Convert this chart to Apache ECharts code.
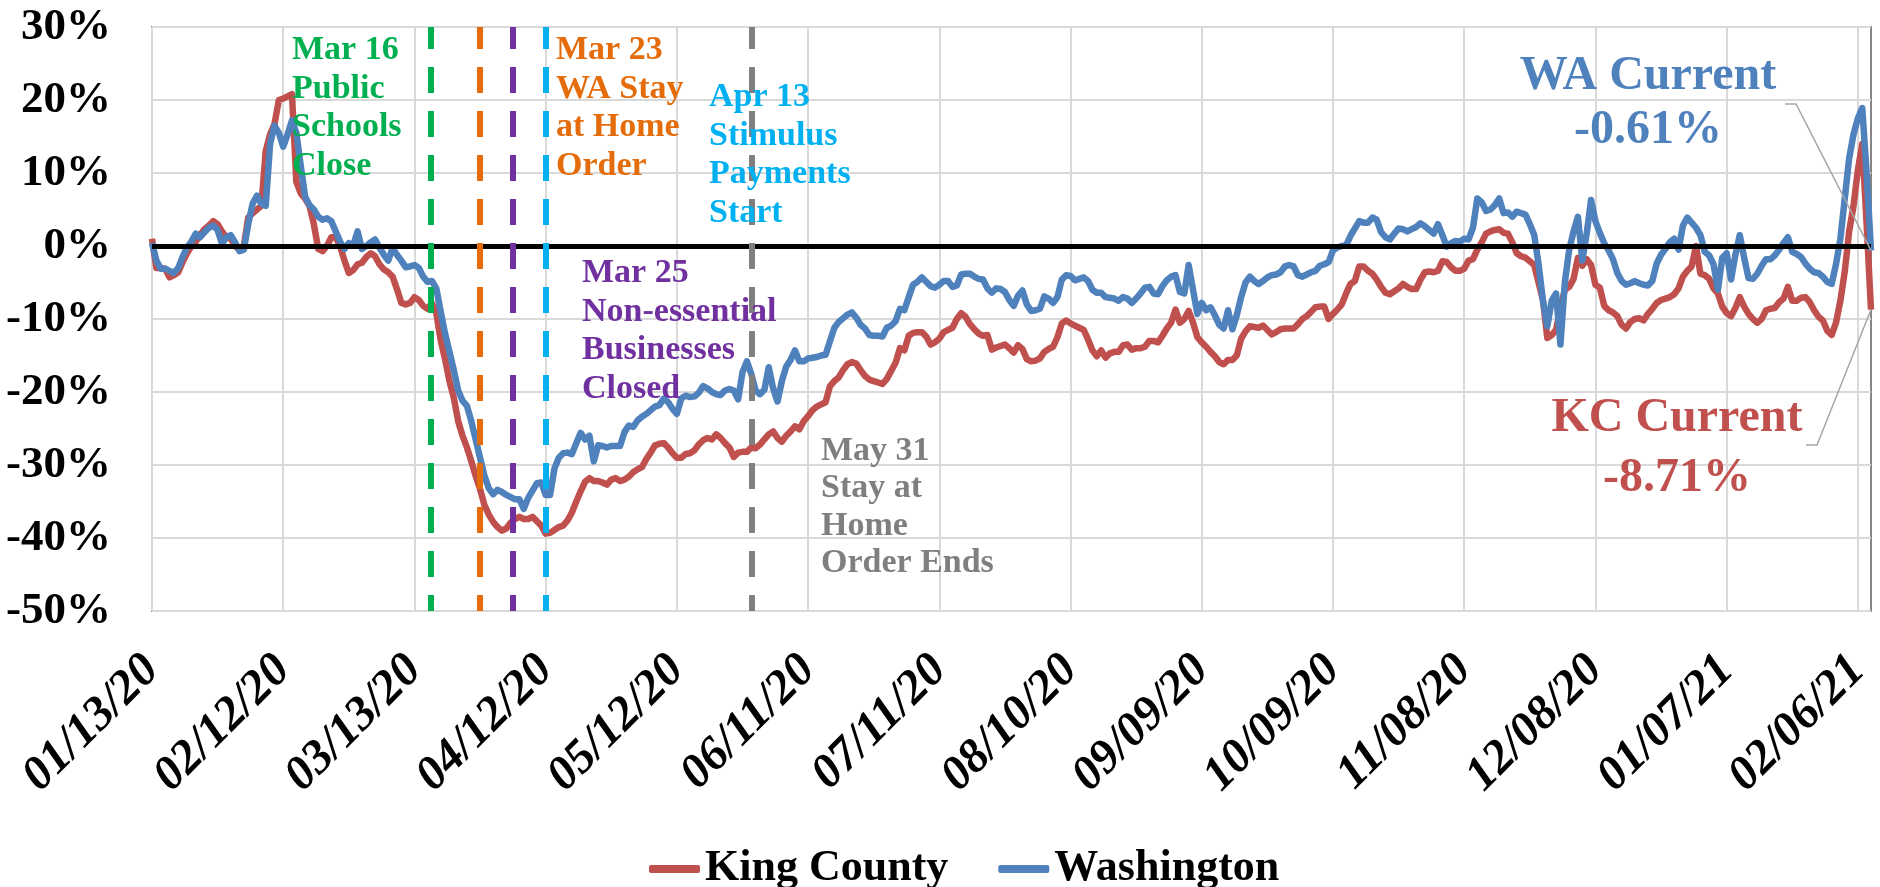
<!DOCTYPE html>
<html><head><meta charset="utf-8">
<script src="https://cdn.jsdelivr.net/npm/echarts@6/dist/echarts.min.js"></script>
<style>html,body{margin:0;padding:0;background:#fff;} #c{width:1880px;height:887px;}</style>
</head><body><div id="c"></div>
<script>
// ---------- DATA ----------
const startDate = [2020, 0, 13]; // first day of series (01/13/20), one point per day
const tickLabels = ['01/13/20','02/12/20','03/13/20','04/12/20','05/12/20','06/11/20','07/11/20',
  '08/10/20','09/09/20','10/09/20','11/08/20','12/08/20','01/07/21','02/06/21'];
const seriesNames = ['King County', 'Washington'];
const kingCounty = [
  1.0, -3.0, -3.0, -3.1, -4.3, -4.0, -3.6, -2.2, -1.0, 0.0,
  0.6, 1.5, 2.3, 2.8, 3.4, 3.0, 2.0, 1.2, 1.0, 0.0,
  -0.5, 0.0, 3.9, 4.5, 5.0, 5.5, 13.0, 15.3, 16.7, 20.0,
  20.2, 20.5, 20.8, 8.8, 7.2, 6.5, 5.5, 3.0, -0.4, -0.7,
  0.0, 1.2, 1.2, 0.0, -2.0, -3.7, -3.3, -2.5, -2.3, -1.5,
  -1.0, -1.4, -2.5, -3.2, -3.6, -4.2, -5.9, -7.8, -8.0, -7.8,
  -7.0, -7.4, -8.2, -8.6, -7.8, -9.2, -12.9, -15.5, -18.5, -20.8,
  -24.0, -26.0, -27.6, -29.5, -31.5, -33.3, -35.5, -36.8, -37.8, -38.5,
  -39.0, -38.7, -37.9, -37.4, -37.1, -37.4, -37.4, -37.1, -37.7, -38.3,
  -39.4, -39.3, -38.9, -38.5, -38.3, -37.6, -36.5, -35.0, -33.6, -32.3,
  -31.8, -32.2, -32.2, -32.4, -32.7, -32.0, -31.8, -32.2, -32.0, -31.6,
  -31.0, -30.6, -30.3, -29.2, -28.3, -27.3, -27.1, -27.0, -27.6, -28.4,
  -29.0, -29.0, -28.5, -28.4, -28.0, -27.2, -26.6, -26.3, -26.5, -25.8,
  -26.3, -27.0, -27.6, -28.9, -28.3, -28.2, -28.2, -27.6, -27.7, -27.2,
  -26.5, -25.8, -25.4, -26.3, -26.8, -26.0, -25.4, -24.7, -25.1, -24.0,
  -23.3, -22.5, -22.0, -21.7, -21.4, -19.2, -18.5, -18.0, -17.0, -16.2,
  -15.9, -16.1, -17.0, -17.8, -18.3, -18.5, -18.7, -18.9, -18.2, -17.1,
  -16.0, -14.0, -14.3, -12.3, -11.9, -11.8, -11.8, -12.4, -13.5, -13.2,
  -12.7, -11.8, -11.5, -11.2, -10.0, -9.2, -9.7, -10.7, -11.4, -12.0,
  -12.3, -12.2, -14.2, -13.9, -13.7, -13.5, -14.0, -14.6, -13.6, -14.1,
  -15.5, -15.8, -15.7, -15.4, -14.5, -14.1, -13.8, -12.5, -10.6, -10.2,
  -10.6, -10.9, -11.2, -11.5, -12.8, -14.3, -15.1, -14.3, -15.3, -14.7,
  -14.5, -14.5, -13.6, -13.5, -14.2, -14.0, -14.0, -13.8, -13.0, -13.0,
  -13.2, -12.3, -11.3, -10.5, -8.7, -10.5, -10.0, -8.9, -10.5, -12.5,
  -13.2, -13.8, -14.5, -15.1, -15.9, -16.2, -15.6, -15.6, -15.0, -12.7,
  -11.7, -11.0, -11.1, -11.2, -10.9, -11.5, -12.1, -11.8, -11.4, -11.3,
  -11.3, -11.3, -10.7, -10.0, -9.6, -9.0, -8.4, -8.3, -8.3, -10.0,
  -9.3, -8.7, -8.0, -6.5, -5.2, -4.8, -2.8, -2.8, -3.4, -3.8,
  -4.6, -5.6, -6.4, -6.6, -6.2, -5.8, -5.2, -5.6, -5.9, -5.9,
  -4.6, -3.6, -3.5, -3.6, -3.4, -2.1, -2.2, -2.9, -3.4, -3.4,
  -3.1, -2.0, -1.8, -0.5, 0.5, 1.7, 2.0, 2.2, 2.3, 1.8,
  1.7, 0.5, -1.0, -1.4, -1.6, -2.1, -2.6, -5.0, -7.4, -12.6,
  -12.2, -11.5, -8.5, -6.0, -5.6, -4.5, -1.6, -2.7, -1.8, -2.6,
  -5.3, -5.7, -8.2, -8.8, -9.1, -9.6, -10.8, -11.3, -10.4, -10.0,
  -9.9, -10.2, -9.3, -8.6, -7.8, -7.4, -7.2, -7.0, -6.6, -5.8,
  -4.2, -3.4, -2.8, 0.0, -3.8, -4.0, -4.5, -5.8, -6.5, -8.3,
  -9.2, -9.6, -8.5, -7.0, -8.3, -9.3, -10.0, -10.5, -10.0, -8.8,
  -8.6, -8.5, -7.7, -7.2, -5.6, -7.5, -7.5, -7.1, -7.0, -7.7,
  -8.8, -9.7, -10.2, -11.6, -12.2, -10.5, -7.5, -3.5, 2.0, 5.5,
  10.4, 14.0, 3.0, -8.71
];
const washington = [
  0.4, -2.0, -3.1, -3.1, -3.4, -3.7, -3.0, -1.5, -0.2, 0.6,
  1.7, 1.2, 1.9, 2.5, 2.8, 2.2, 0.3, 1.2, 1.5, 0.5,
  -0.7, -0.5, 3.0, 5.8, 6.9, 5.8, 5.5, 14.0, 16.5, 15.5,
  13.6, 15.3, 17.2, 15.5, 11.0, 6.8, 5.6, 5.0, 4.0, 3.6,
  3.8, 3.4, 2.0, 0.6, -0.4, 0.4, 0.1, 2.0, -0.4, 0.0,
  0.5, 0.9, -0.2, -1.2, -2.0, -0.3, -1.2, -2.0, -2.9, -2.8,
  -2.6, -3.0, -4.2, -4.9, -4.8, -5.8, -9.0, -12.0, -14.5, -17.0,
  -19.8, -21.2, -21.9, -24.0, -26.5, -29.0, -31.5, -33.2, -34.0, -33.4,
  -33.7, -34.1, -34.4, -34.7, -34.7, -36.0, -34.5, -33.5, -32.5, -32.4,
  -34.1, -34.1, -30.5, -29.0, -28.4, -28.3, -28.5, -27.0, -25.6, -26.5,
  -26.0, -29.5, -27.3, -27.4, -27.6, -27.4, -27.4, -27.4, -25.5, -24.6,
  -24.8, -23.9, -23.4, -23.0, -22.5, -22.0, -21.8, -20.9, -21.4, -22.3,
  -23.0, -20.9, -20.5, -20.7, -20.6, -20.1, -19.2, -19.5, -20.0, -20.3,
  -20.4, -19.8, -19.6, -19.8, -21.0, -17.3, -15.8, -17.5, -19.8, -20.3,
  -19.7, -16.6, -19.5, -21.3, -18.5, -16.5, -15.6, -14.3, -15.8, -15.8,
  -15.4, -15.3, -15.2, -15.0, -14.9, -13.0, -11.2, -10.4, -9.9, -9.4,
  -9.1, -9.8, -10.8, -11.3, -12.2, -12.3, -12.3, -12.4, -11.2, -10.9,
  -10.3, -8.6, -8.8, -7.0, -5.3, -4.9, -4.3, -4.9, -5.5, -5.7,
  -5.3, -4.8, -4.8, -5.6, -5.4, -3.9, -3.8, -3.8, -4.2, -4.5,
  -4.6, -5.8, -6.4, -5.8, -5.9, -6.3, -7.4, -8.2, -6.8, -6.1,
  -8.0, -8.9, -8.8, -8.6, -6.9, -7.2, -7.8, -7.0, -4.6, -4.0,
  -4.1, -4.7, -4.5, -4.3, -4.8, -6.0, -6.4, -6.4, -7.0, -7.1,
  -7.2, -7.5, -7.0, -7.2, -7.8, -7.2, -6.5, -5.7, -5.6, -6.5,
  -6.6, -5.5, -4.7, -4.2, -4.0, -6.3, -6.5, -2.6, -6.0, -9.3,
  -7.8, -8.8, -8.4, -9.5, -10.8, -11.3, -8.8, -11.4, -9.5, -7.0,
  -5.0, -4.2, -4.8, -5.2, -4.8, -4.3, -4.0, -3.9, -3.6, -2.8,
  -2.6, -2.8, -4.0, -4.2, -3.9, -3.6, -3.4, -2.7, -2.5, -2.2,
  -0.6, -0.2, 0.0, 0.1, 1.4, 2.4, 3.4, 3.2, 3.2, 3.9,
  3.6, 1.9, 1.2, 0.9, 1.7, 2.4, 2.3, 2.0, 2.3, 2.6,
  3.1, 2.7, 2.2, 1.7, 3.0, 1.5, -0.1, 0.4, 0.7, 0.6,
  1.0, 0.9, 2.5, 6.5, 6.0, 4.8, 5.0, 5.6, 6.5, 4.5,
  4.6, 4.0, 4.7, 4.5, 4.3, 3.0, 1.5, -2.5, -7.5, -11.0,
  -7.5, -6.5, -13.5, -5.0, -0.5, 2.0, 4.0, -2.0, 1.7, 6.3,
  3.4, 1.8, 0.4, -0.6, -1.8, -3.7, -4.8, -5.3, -5.1, -4.8,
  -5.1, -5.3, -5.4, -4.8, -2.4, -1.2, -0.4, 0.5, 1.0, -0.5,
  2.8, 3.9, 3.2, 2.5, 1.5, -0.8, -1.3, -2.5, -6.0, -1.6,
  -1.0, -4.6, -1.2, 1.5, -1.6, -4.4, -4.5, -3.8, -2.7, -1.8,
  -1.8, -1.3, -0.5, 0.4, 1.2, -0.8, -1.1, -1.5, -2.4, -3.1,
  -3.6, -3.7, -4.2, -4.9, -5.2, -2.5, 1.0, 6.5, 12.0, 15.3,
  17.5, 18.9, 10.0, -0.61
];
// event markers: day offset from start where each dashed line sits
const eventDays = [63.8, 75.0, 82.4, 90.1, 137.2];
const eventNotes = [
  'Mar 16\nPublic\nSchools\nClose',
  'Mar 23\nWA Stay\nat Home\nOrder',
  'Mar 25\nNon-essential\nBusinesses\nClosed',
  'Apr 13\nStimulus\nPayments\nStart',
  'May 31\nStay at\nHome\nOrder Ends'
];
const currentLabels = ['KC Current', 'WA Current'];

// ---------- BUILD ----------
const pad = n => String(n).padStart(2, '0');
const categories = kingCounty.map((_, i) => {
  const d = new Date(Date.UTC(startDate[0], startDate[1], startDate[2] + i));
  return pad(d.getUTCMonth() + 1) + '/' + pad(d.getUTCDate()) + '/' + String(d.getUTCFullYear()).slice(2);
});
const N = categories.length;
const isTick = (idx, val) => tickLabels.indexOf(categories[idx]) >= 0;

const FONT = '"Liberation Serif", "Times New Roman", serif';
const RED = '#c0504d', BLUE = '#4f81bd';
const eventColors = ['#00b050', '#e46c0a', '#7030a0', '#00b0f0', '#7f7f7f'];
const notePos = [[292, 31, 38.5], [556, 31, 38.5], [582, 254, 38.5], [709, 78, 38.5], [821, 432, 37.5]];

const chart = echarts.init(document.getElementById('c'), null, {renderer: 'canvas'});
const option = {
  animation: false,
  backgroundColor: '#ffffff',
  grid: {left: 152, right: 9, top: 27, bottom: 276, show: true, borderColor: '#868686', borderWidth: 2, backgroundColor: 'transparent'},
  legend: {
    data: seriesNames, left: 644, top: 842, icon: 'roundRect', itemWidth: 51, itemHeight: 8, itemGap: 50,
    textStyle: {fontFamily: FONT, fontWeight: 'bold', fontSize: 44, color: '#000'}
  },
  xAxis: [{
    type: 'category', data: categories, boundaryGap: false,
    axisLine: {show: false}, axisTick: {show: false},
    axisLabel: {interval: isTick, rotate: 45, margin: 52, fontFamily: FONT, fontWeight: 'bold', fontStyle: 'italic', fontSize: 48, color: '#000'},
    splitLine: {show: true, interval: isTick, lineStyle: {color: '#d9d9d9', width: 2}}
  }, {
    type: 'value', min: 0, max: N - 1, show: false
  }],
  yAxis: {
    type: 'value', min: -50, max: 30, interval: 10,
    axisLine: {show: false}, axisTick: {show: false},
    axisLabel: {formatter: '{value}%', margin: 41, fontFamily: FONT, fontWeight: 'bold', fontSize: 45, color: '#000'},
    splitLine: {lineStyle: {color: '#d9d9d9', width: 2}}
  },
  series: [
    {
      type: 'line', name: 'zero', data: [], z: 2, silent: true,
      markLine: {silent: true, symbol: ['none', 'none'], label: {show: false},
        lineStyle: {color: '#000', width: 5, type: 'solid'}, data: [{yAxis: 0}]}
    },
    {
      type: 'line', name: seriesNames[0], data: kingCounty, showSymbol: false, symbol: 'none', z: 3,
      color: RED, lineStyle: {color: RED, width: 6.5, join: 'round'}
    },
    {
      type: 'line', name: seriesNames[1], data: washington, showSymbol: false, symbol: 'none', z: 3,
      color: BLUE, lineStyle: {color: BLUE, width: 6.5, join: 'round'}
    },
    {
      type: 'line', name: 'events', data: [], xAxisIndex: 1, z: 4, silent: true,
      markLine: {silent: true, symbol: ['none', 'none'], label: {show: false},
        data: eventDays.map((d, i) => ({xAxis: d, lineStyle: {color: eventColors[i], width: 6, type: [26, 18], dashOffset: 10}}))}
    }
  ]
};
chart.setOption(option);

// annotations
const kcEnd = chart.convertToPixel({xAxisIndex: 0, yAxisIndex: 0}, [N - 1, kingCounty[N - 1]]);
const waEnd = chart.convertToPixel({xAxisIndex: 0, yAxisIndex: 0}, [N - 1, washington[N - 1]]);
const graphics = eventNotes.map((t, i) => ({
  type: 'text', left: notePos[i][0], top: notePos[i][1], z: 10,
  style: {text: t, fill: eventColors[i], font: 'bold 34px ' + FONT, lineHeight: notePos[i][2]}
}));
const bigFont = 'bold 48px ' + FONT;
const fmt = v => v.toFixed(2) + '%';
graphics.push(
  {type: 'text', x: 1648, y: 77, z: 10, style: {text: currentLabels[1], fill: BLUE, font: bigFont, align: 'center', verticalAlign: 'middle'}},
  {type: 'text', x: 1648, y: 131, z: 10, style: {text: fmt(washington[N - 1]), fill: BLUE, font: bigFont, align: 'center', verticalAlign: 'middle'}},
  {type: 'text', x: 1677, y: 419, z: 10, style: {text: currentLabels[0], fill: RED, font: bigFont, align: 'center', verticalAlign: 'middle'}},
  {type: 'text', x: 1677, y: 479, z: 10, style: {text: fmt(kingCounty[N - 1]), fill: RED, font: bigFont, align: 'center', verticalAlign: 'middle'}},
  {type: 'polyline', z: 9, shape: {points: [[1785, 104], [1796, 104], waEnd]}, style: {stroke: '#a6a6a6', lineWidth: 1.5, fill: null}},
  {type: 'polyline', z: 9, shape: {points: [[1806, 445], [1817, 445], kcEnd]}, style: {stroke: '#a6a6a6', lineWidth: 1.5, fill: null}}
);
chart.setOption({graphic: graphics});
</script>
</body></html>
